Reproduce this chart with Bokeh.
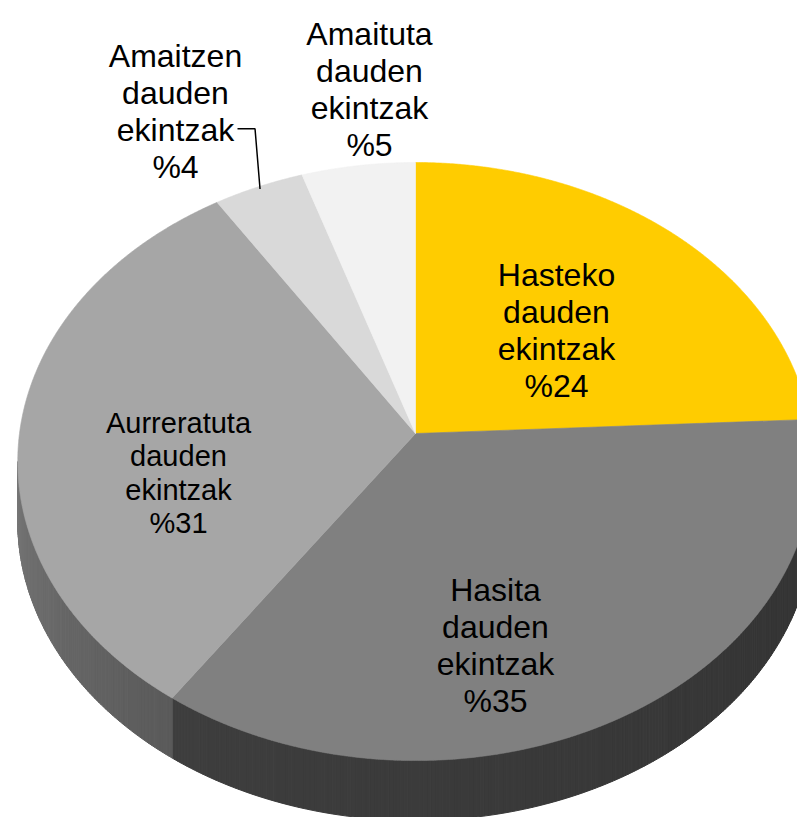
import numpy as np
from bokeh.plotting import figure
from bokeh.models import Range1d
from bokeh.embed import file_html
from bokeh.resources import INLINE
from bokeh.core.properties import value

# ---------------- data ----------------
categories = ["Hasteko dauden ekintzak", "Hasita dauden ekintzak",
              "Aurreratuta dauden ekintzak", "Amaitzen dauden ekintzak",
              "Amaituta dauden ekintzak"]
label_first = ["Hasteko", "Hasita", "Aurreratuta", "Amaitzen", "Amaituta"]
percents = [24, 35, 31, 4, 5]
percent_labels = ["%24", "%35", "%31", "%4", "%5"]

# ---------------- styles ----------------
top_colors = ["#FFCC00", "#808080", "#A6A6A6", "#D9D9D9", "#F2F2F2"]
side_start = ["#B38F00", "#333333", "#5A5A5A", "#989898", "#AAAAAA"]
side_end = ["#B38F00", "#3E3E3E", "#767676", "#989898", "#AAAAAA"]

# ---------------- layout (pixels) ----------------
CX, CY = 415.0, 433.0      # apex of the pie
RX, RY = 396.0, 296.4      # radii of the top disc
K = 0.0937                 # perspective strength
DEPTH = 60.0               # thickness of the disc
label_cx = [556, 495, 178, 175, 369]
label_base = [274, 589, 422, 55, 33]
label_size = [32, 32, 29, 32, 32]
LINE_FACTOR = 1.16
FONT = "Liberation Sans"


def proj(theta_deg, r=1.0, dy=0.0):
    t = np.radians(theta_deg)
    s = 1.0 / (1.0 + K * r * np.cos(t))
    return CX + RX * r * np.sin(t) * s, CY - RY * r * np.cos(t) * s + dy


def hex2rgb(h):
    h = h.lstrip("#")
    return np.array([int(h[i:i + 2], 16) for i in (0, 2, 4)], dtype=float)


def rgb2hex(c):
    return "#%02x%02x%02x" % tuple(int(round(v)) for v in c)


total = float(sum(percents))
bounds = np.concatenate([[0.0], np.cumsum(percents) / total * 360.0])

W, H = 797, 817
p = figure(width=W, height=H, output_backend="svg", toolbar_location=None,
           x_range=Range1d(0, W), y_range=Range1d(H, 0),
           min_border=0, min_border_left=0, min_border_right=0,
           min_border_top=0, min_border_bottom=0)
p.axis.visible = False
p.grid.visible = False
p.outline_line_color = None
p.background_fill_color = "white"
p.border_fill_color = "white"

# ---------------- side wall ----------------
th_r = np.degrees(np.arccos(-K))
th_l = 360.0 - th_r
sx, sy, sc = [], [], []
for i in range(len(percents)):
    a, b = max(bounds[i], th_r), min(bounds[i + 1], th_l)
    if b <= a:
        continue
    n = max(2, int((b - a) / 0.5))
    ts = np.linspace(a, b, n + 1)
    c0, c1 = hex2rgb(side_start[i]), hex2rgb(side_end[i])
    for j in range(n):
        t0, t1 = ts[j], ts[j + 1]
        x0, y0 = proj(t0)
        x1, y1 = proj(t1)
        frac = (0.5 * (t0 + t1) - a) / (b - a)
        sx.append([x0, x1, x1, x0])
        sy.append([y0, y1, y1 + DEPTH, y0 + DEPTH])
        sc.append(rgb2hex(c0 + (c1 - c0) * frac))
p.patches(sx, sy, fill_color=sc, line_color=sc, line_width=1)

# ---------------- top surface ----------------
tx, ty = [], []
for i in range(len(percents)):
    ts = np.linspace(bounds[i], bounds[i + 1], max(3, int((bounds[i + 1] - bounds[i]) / 0.25)))
    ex, ey = proj(ts)
    tx.append(np.concatenate([[CX], ex]).tolist())
    ty.append(np.concatenate([[CY], ey]).tolist())
p.patches(tx, ty, fill_color=top_colors, line_color=top_colors, line_width=0.6)

# ---------------- labels ----------------
for i in range(len(percents)):
    lines = [label_first[i], "dauden", "ekintzak", percent_labels[i]]
    step = label_size[i] * LINE_FACTOR
    ys = [label_base[i] + k * step for k in range(4)]
    p.text(x=[label_cx[i]] * 4, y=ys, text=lines, text_align="center",
           text_baseline="alphabetic", text_color="black",
           text_font=value(FONT), text_font_size=f"{label_size[i]}px")

# leader line for the small slice "Amaitzen"
li = 3
mid = 0.5 * (bounds[li] + bounds[li + 1])
ex, ey = proj(mid, r=0.99)
elbow_y = label_base[li] + 2 * label_size[li] * LINE_FACTOR - 1
p.line(x=[label_cx[li] + 62, ex - 5, ex], y=[elbow_y, elbow_y, ey],
       line_color="black", line_width=1.5)

open("out.html", "w").write(file_html(p, INLINE))
